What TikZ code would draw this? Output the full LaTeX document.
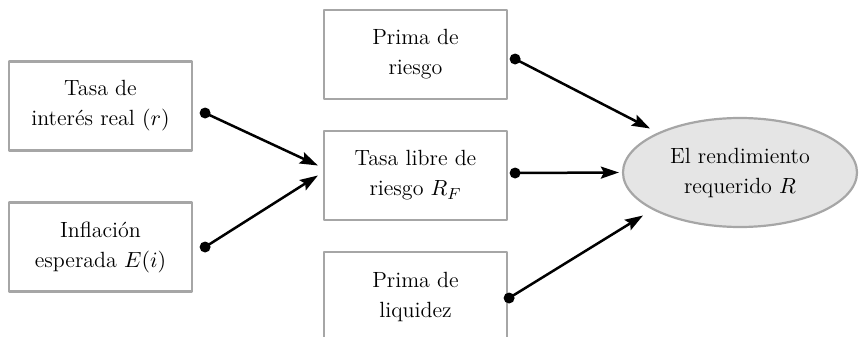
\documentclass[tikz,border=0pt]{standalone}
\usetikzlibrary{arrows.meta,shapes.geometric}
\begin{document}
\begin{tikzpicture}[x=0.5pt, y=-0.5pt, font=\fontsize{11}{15}\selectfont, line join=round, line cap=round,
		>={Stealth[length=9pt,width=6pt,inset=1.5pt]},
		caja/.style={draw=black!35, line width=1.1pt, fill=white, minimum width=91.5pt, minimum height=44.5pt, align=center, inner sep=0pt},
		meta/.style={ellipse, draw=black!35, line width=1.1pt, fill=black!10, minimum width=117pt, minimum height=54.5pt, align=center, inner sep=0pt},
		flecha/.style={->, line width=1.25pt},
		punto/.style={circle, fill, inner sep=0pt, minimum size=5.5pt}]
	\clip (0,0) rectangle (863,337);
	% factores de la tasa libre de riesgo
	\node[caja] (real) at (100.5,106) {Tasa de\\interés real $(r)$};
	\node[caja] (infl) at (100.5,247) {Inflación\\esperada $E(i)$};
	% componentes del rendimiento
	\node[caja] (riesgo) at (415.5,54.5) {Prima de\\riesgo};
	\node[caja] (libre) at (415.5,175.5) {Tasa libre de\\riesgo $R_F$};
	\node[caja] (liq) at (415.5,296.5) {Prima de\\liquidez};
	\node[meta] (rend) at (740,172.5) {El rendimiento\\requerido $R$};
	% puntos de salida
	\node[punto] (p1) at ([shift={(12,7)}]real.east) {};
	\node[punto] (p2) at ([shift={(12,0)}]infl.east) {};
	\node[punto] (p3) at ([shift={(7,4.5)}]riesgo.east) {};
	\node[punto] (p4) at ([shift={(7,-2.5)}]libre.east) {};
	\node[punto] (p5) at ([shift={(1,1.5)}]liq.east) {};
	\draw[flecha] (p1.center) -- ([shift={(-5,-10)}]libre.west);
	\draw[flecha] (p2.center) -- ([shift={(-5,0)}]libre.west);
	\draw[flecha] (p3.center) -- ([shift={(-90,-44)}]rend.center);
	\draw[flecha] (p4.center) -- ([shift={(-3,0)}]rend.west);
	\draw[flecha] (p5.center) -- ([shift={(-97,43)}]rend.center);
\end{tikzpicture}
\end{document}
